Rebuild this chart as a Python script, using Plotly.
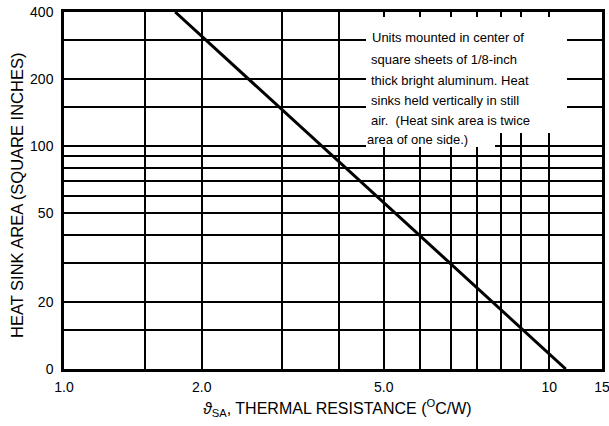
import plotly.graph_objects as go
import math

# ---------------- data ----------------
resistance = [1.75, 12.5]          # thermal resistance (chart units, deg C/W)
area = [400, 10]                    # heat sink area (square inches)

x_gridvals = [1, 1.5, 2, 3, 4, 5, 6, 7, 8, 9, 10, 11.5, 15]
x_ticklabels = ["1.0", "", "2.0", "", "", "5.0", "", "", "", "", "", "10", "15"]
y_gridvals = [10, 15, 20, 30, 40, 50, 60, 70, 80, 90, 100, 150, 200, 300, 400]
y_ticklabels = ["0", "", "20", "", "", "50", "", "", "", "", "100", "", "200", "", "400"]

note_lines = [
    "Units mounted in center of",
    "square sheets of 1/8-inch",
    "thick bright aluminum. Heat",
    "sinks held vertically in still",
    "air.  (Heat sink area is twice",
    "area of one side.)",
]

x_title = "<i>ϑ</i><sub>SA</sub>, THERMAL RESISTANCE (<sup>O</sup>C/W)"
y_title = "HEAT SINK AREA (SQUARE INCHES)"

# ---------------- layout geometry (pixels) ----------------
W, H = 609, 426
L, R, T, B = 64, 7, 12, 57
pw, ph = W - L - R, H - T - B

def px(x):
    return (x - L) / pw

def py(y):
    return (H - B - y) / ph

FONT = "Liberation Sans, Arial, sans-serif"

fig = go.Figure()
fig.add_trace(go.Scatter(
    x=resistance, y=area, mode="lines",
    line=dict(color="black", width=3),
    showlegend=False, hoverinfo="skip",
))

# white area behind the note
shapes = [
    dict(type="rect", xref="paper", yref="paper",
         x0=px(366), x1=px(567), y0=py(133), y1=py(17),
         fillcolor="white", line=dict(width=0), layer="above"),
    dict(type="rect", xref="paper", yref="paper",
         x0=px(366), x1=px(495), y0=py(147), y1=py(132),
         fillcolor="white", line=dict(width=0), layer="above"),
]

note_y = [38, 59.5, 81, 100.5, 120, 139.5]
note_x = [370, 369, 369, 369, 369, 365]
annotations = []
for txt, xx, yy in zip(note_lines, note_x, note_y):
    annotations.append(dict(
        text=txt, xref="paper", yref="paper", x=px(xx), y=py(yy),
        xanchor="left", yanchor="middle", showarrow=False,
        font=dict(family=FONT, size=13, color="black"),
    ))

# axis titles as annotations for precise placement
annotations.append(dict(
    text=x_title, xref="paper", yref="paper", x=px(337), y=py(408),
    xanchor="center", yanchor="middle", showarrow=False,
    font=dict(family=FONT, size=16, color="black"),
))
annotations.append(dict(
    text=y_title, xref="paper", yref="paper", x=px(17), y=py(196),
    xanchor="center", yanchor="middle", showarrow=False, textangle=-90,
    font=dict(family=FONT, size=16.5, color="black"),
))

fig.update_layout(
    width=W, height=H,
    margin=dict(l=L, r=R, t=T, b=B, pad=0, autoexpand=False),
    paper_bgcolor="white", plot_bgcolor="white",
    shapes=shapes, annotations=annotations,
    showlegend=False,
)

fig.update_xaxes(
    type="log", range=[0, math.log10(15.0005)], automargin=False,
    tickmode="array", tickvals=x_gridvals, ticktext=x_ticklabels,
    showgrid=True, gridcolor="black", gridwidth=1.6,
    showline=True, linecolor="black", linewidth=2.5, mirror=True,
    ticks="", ticklabelstandoff=3, ticklabeloverflow="allow",
    tickfont=dict(family=FONT, size=14, color="black"),
)
fig.update_yaxes(
    type="log", range=[1, math.log10(400)], automargin=False,
    tickmode="array", tickvals=y_gridvals, ticktext=y_ticklabels,
    showgrid=True, gridcolor="black", gridwidth=1.6,
    showline=True, linecolor="black", linewidth=2.5, mirror=True,
    ticks="", ticklabelstandoff=5, ticklabeloverflow="allow",
    tickfont=dict(family=FONT, size=14, color="black"),
)

fig.write_html(
    "out.html",
    config={"displayModeBar": False},
    post_script="document.body.style.margin='0';document.body.style.overflow='hidden';",
)
